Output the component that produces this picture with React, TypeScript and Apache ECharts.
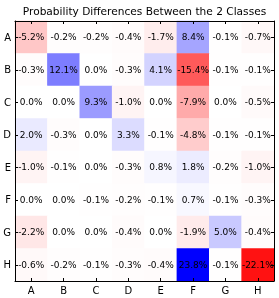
import React, { useEffect, useRef } from "react";
import * as echarts from "echarts";

const xCategories = ["A", "B", "C", "D", "E", "F", "G", "H"];
const yCategories = ["A", "B", "C", "D", "E", "F", "G", "H"];
const rowA = [-5.2, -0.2, -0.2, -0.4, -1.7, 8.4, -0.1, -0.7];
const rowB = [-0.3, 12.1, 0.0, -0.3, 4.1, -15.4, -0.1, -0.1];
const rowC = [0.0, 0.0, 9.3, -1.0, 0.0, -7.9, 0.0, -0.5];
const rowD = [2.0, -0.3, 0.0, 3.3, -0.1, -4.8, -0.1, -0.1];
const rowE = [-1.0, -0.1, 0.0, -0.3, 0.8, 1.8, -0.2, -1.0];
const rowF = [0.0, 0.0, -0.1, -0.2, -0.1, 0.7, -0.1, -0.3];
const rowG = [-2.2, 0.0, 0.0, -0.4, 0.0, -1.9, 5.0, -0.4];
const rowH = [-0.6, -0.2, -0.1, -0.3, -0.4, 23.8, -0.1, -22.1];
const rows = [rowA, rowB, rowC, rowD, rowE, rowF, rowG, rowH];
const titleText = "Probability Differences Between the 2 Classes";

export default function App() {
  const ref = useRef<HTMLDivElement>(null);
  useEffect(() => {
    if (!ref.current) return;
    const chart = echarts.init(ref.current, null, { renderer: "svg" });
    const data: [number, number, number][] = [];
    rows.forEach((row, yi) => row.forEach((v, xi) => data.push([xi, yi, v])));
    const font = "DejaVu Sans";
    const axisCommon = (pos: string, show: boolean) => ({
      type: "category",
      position: pos,
      z: 10,
      axisLine: { show: true, lineStyle: { color: "#000", width: 1 } },
      axisTick: { show: true, inside: true, length: 3, alignWithLabel: true, lineStyle: { color: "#000" } },
      axisLabel: { show, color: "#000", fontFamily: font, fontSize: 10, margin: 4 },
      splitLine: { show: false },
    });
    chart.setOption({
      animation: false,
      textStyle: { fontFamily: font },
      graphic: [
        {
          type: "text",
          x: 144.5,
          y: 11,
          style: {
            text: titleText,
            textAlign: "center",
            textVerticalAlign: "middle",
            fontFamily: font,
            fontSize: 10.6,
            fill: "#000",
          },
        },
      ],
      grid: { left: 15, top: 21, right: 5, bottom: 17 },
      xAxis: [
        { ...axisCommon("bottom", true), data: xCategories },
        { ...axisCommon("top", false), data: xCategories },
      ],
      yAxis: [
        { ...axisCommon("left", true), data: yCategories, inverse: true },
        { ...axisCommon("right", false), data: yCategories, inverse: true },
      ],
      visualMap: {
        show: false,
        min: -23.8,
        max: 23.8,
        dimension: 2,
        inRange: { color: ["#ff0000", "#ffffff", "#0000ff"] },
      },
      series: [
        {
          type: "heatmap",
          data,
          z: 2,
          label: {
            show: true,
            fontFamily: font,
            fontSize: 9,
            color: "#000",
            formatter: (p: any) => p.value[2].toFixed(1) + "%",
          },
        },
      ],
    });
    return () => chart.dispose();
  }, []);
  return <div ref={ref} style={{ position: "fixed", left: 0, top: 0, width: 279, height: 298 }} />;
}
